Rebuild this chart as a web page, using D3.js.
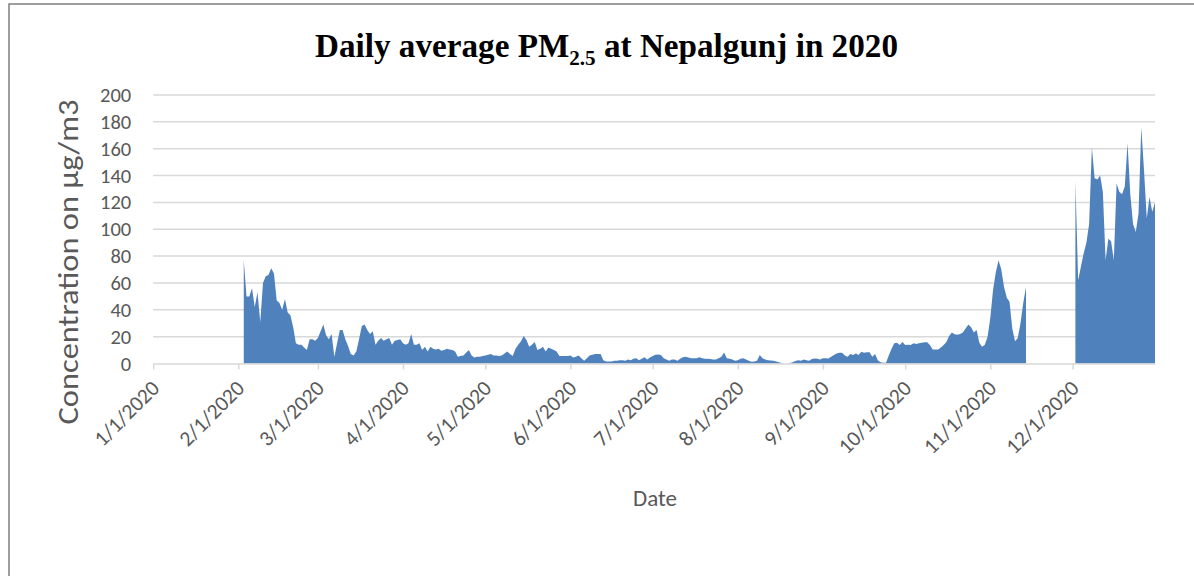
<!DOCTYPE html>
<html><head><meta charset="utf-8">
<script src="https://cdn.jsdelivr.net/npm/d3@7"></script>
<style>body{margin:0;background:#fff} svg{display:block}</style>
</head><body>
<svg id="chart" width="1194" height="576"></svg>
<script>
// ---- data (daily PM2.5, µg/m3; null = no data) ----
const tickLabels = ["1/1/2020","2/1/2020","3/1/2020","4/1/2020","5/1/2020","6/1/2020",
                    "7/1/2020","8/1/2020","9/1/2020","10/1/2020","11/1/2020","12/1/2020"];
const yTicks = [0,20,40,60,80,100,120,140,160,180,200];
const pmFeb = [null,null,77,50,50,56,42,53,31,60,65,66,71,67,47,45,40,48,38,36,27,15,14,14,12,10,18,18,17];
const pmMar = [19,24,29,21,18,22,5,15,25,25,18,13,7,6,9,18,28,29,25,22,24,14,17,19,17,18,19,14,17,17.5,18];
const pmApr = [15,14,15,22,14,14,15,10,12.5,9,12.5,11,10.5,11,9.5,10,11,10.5,10,9,5,5.5,6,8,10,6,4.5,5,5,5.5];
const pmMay = [6,6.5,7,6,6,5.5,6,7.5,9,7,5.5,11,14,16.5,20.5,17.5,12.5,14,16,10,11,12.5,9,12,11,10,9,5.5,5.5,5.5,5.5];
const pmJun = [6,4.5,5,6,4,2,4,6,6.5,7,7,7,2.5,1.5,1.5,1.5,2,2,2.5,2.5,2,3,2.5,3.5,4,2.5,3.5,4.6,3,4.5];
const pmJul = [5.6,6.5,6.7,6.4,4,3,2,3,3,2,3.5,4.6,5,4.5,4,4,4,4.6,4,3.6,3.5,3.3,3,3,4,5,8.2,4,3.5,3,2];
const pmAug = [2.5,3.5,4,3,2,1.3,1.5,2,6.4,4,3,2.5,2.2,2,1.5,1,0.3,0,0,0.3,1,1.8,2.5,2,3,2.5,2,3.3,3.8,3.5,3];
const pmSep = [4,4,3.8,5,6.3,7.5,8,8,6,5,7,6.3,7.5,6.3,8.8,8,8.3,8.3,5,7,2.5,1,0.5,0.5,6,11,15,15.5,13.8,16];
const pmOct = [13.8,14,13.8,15,14.5,15,15.5,15.8,15.8,13.8,10.5,10.5,10.5,12,13.8,16,20.5,23,21.8,21.5,22,23,26,29,27,23,25,15.5,12.5,14,20];
const pmNov = [34,55,68,77,70,57,49,46,26,16.6,19,30,45,57,null,null,null,null,null,null,null,null,null,null,null,null,null,null,null,null];
const pmDec = [null,136,62,72,82,90,104,161,138,137,140,128,77,93,91,77,134,128,126,132,164,126,104,98,112,176,144,108,124,113,120];

const monthSeries = [pmFeb,pmMar,pmApr,pmMay,pmJun,pmJul,pmAug,pmSep,pmOct,pmNov,pmDec]; // months 2..12
const series = [];
monthSeries.forEach((arr,k)=>arr.forEach((v,i)=>series.push({date:new Date(Date.UTC(2020,k+1,i+1)), v})));

const FONT = "Carlito, Lato, 'Open Sans', sans-serif";
const GRAY = "#595959";
const svg = d3.select("#chart");

// outer frame
svg.append("rect").attr("x",9).attr("y",4).attr("width",1210).attr("height",600)
  .attr("fill","none").attr("stroke","#7f7f7f").attr("stroke-width",1.5);

const x = d3.scaleUtc().domain([new Date(Date.UTC(2020,0,1)), new Date(Date.UTC(2020,11,31))]).range([153.2,1155]);
const y = d3.scaleLinear().domain([0,200]).range([363.5,95]);

// gridlines
svg.append("g").selectAll("line").data(yTicks.filter(t=>t>0)).join("line")
  .attr("x1",x.range()[0]).attr("x2",x.range()[1])
  .attr("y1",d=>y(d)).attr("y2",d=>y(d))
  .attr("stroke","#d9d9d9").attr("stroke-width",1.5);

// y axis labels
const yAxis = svg.append("g").attr("transform",`translate(${x.range()[0]},0)`)
  .call(d3.axisLeft(y).tickValues(yTicks).tickSize(0).tickPadding(22));
yAxis.select(".domain").remove();
yAxis.selectAll("text").attr("font-family",FONT).attr("font-size",20.5).attr("fill",GRAY);

// area
const area = d3.area().defined(d=>d.v!=null)
  .x(d=>x(d.date)).y0(y(0)).y1(d=>y(d.v));
svg.append("path").datum(series).attr("d",area).attr("fill","#4f81bd");

// x axis
const monthStarts = d3.range(12).map(m=>new Date(Date.UTC(2020,m,1)));
const xAxis = svg.append("g").attr("transform",`translate(0,${y(0)})`)
  .call(d3.axisBottom(x).tickValues(monthStarts).tickSizeInner(6).tickSizeOuter(0)
    .tickFormat((d,i)=>tickLabels[i]));
xAxis.select(".domain").attr("stroke","#d9d9d9").attr("stroke-width",1.5);
xAxis.selectAll(".tick line").attr("stroke","#d9d9d9").attr("stroke-width",1.5);
xAxis.selectAll("text").attr("font-family",FONT).attr("font-size",21.5).attr("fill",GRAY)
  .attr("text-anchor","end").attr("x",0).attr("y",0).attr("dy",0)
  .attr("transform","translate(7,26) rotate(-45)");

// title
const title = svg.append("text").attr("x",315).attr("y",57)
  .attr("font-family","'Liberation Serif', 'DejaVu Serif', serif").attr("font-weight","bold")
  .attr("font-size",33).attr("fill","#000");
title.append("tspan").text("Daily average PM");
title.append("tspan").attr("font-size",21).attr("dy",8).text("2.5");
title.append("tspan").attr("dy",-8).text(" at Nepalgunj in 2020");
title.attr("textLength",583).attr("lengthAdjust","spacingAndGlyphs");

// axis titles
svg.append("text").attr("transform","translate(78,262) rotate(-90)")
  .attr("text-anchor","middle").attr("font-family",FONT).attr("font-size",29).attr("fill",GRAY)
  .attr("textLength",325).attr("lengthAdjust","spacingAndGlyphs")
  .text("Concentration on μg/m3");
svg.append("text").attr("x",655).attr("y",506).attr("text-anchor","middle")
  .attr("font-family",FONT).attr("font-size",23).attr("fill",GRAY).text("Date");
</script>
</body></html>
